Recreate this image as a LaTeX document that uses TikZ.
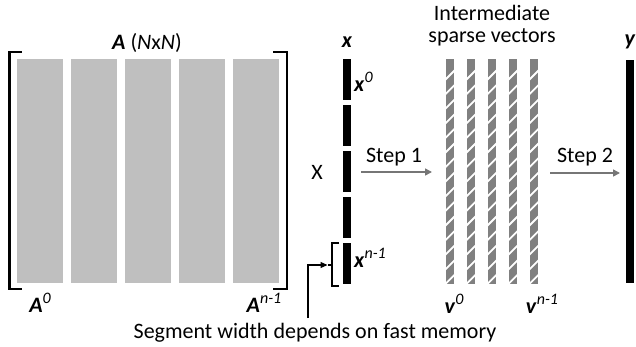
\documentclass[tikz,border=0pt]{standalone}
\usepackage{fontspec}
\setmainfont{Carlito}
\usetikzlibrary{arrows.meta}
\definecolor{colgray}{HTML}{BFBFBF}
\definecolor{stripegray}{HTML}{808080}
\definecolor{arrgray}{HTML}{767676}
\newcommand\bi[1]{\textbf{\textit{#1}}}
\newcommand\sups[1]{\raisebox{0.42em}{\fontsize{16}{16}\selectfont\itshape #1}}
\begin{document}
\begin{tikzpicture}[x=1pt,y=-1pt,
  txt/.style={font=\fontsize{22}{22}\selectfont, inner sep=0pt},
  col/.style={fill=colgray, draw=none, inner sep=0pt, minimum width=46pt, minimum height=224pt},
  seg/.style={fill=black, draw=none, inner sep=0pt, minimum width=8pt, minimum height=41pt},
  stripe/.style={fill=stripegray, draw=none, inner sep=0pt, minimum width=8pt, minimum height=225pt},
  bracketline/.style={line width=2.4pt, line cap=rect},
  hatch/.style={white, line width=1.8pt},
  steparrow/.style={arrgray, line width=1.5pt, -{Triangle[length=7pt,width=7pt]}},
  notearrow/.style={black, line width=1.2pt, -{Triangle[length=7pt,width=6pt]}},
  brace/.style={black, line width=1.1pt}]
\useasboundingbox (0,0) rectangle (636,346);

% matrix A
\foreach \i/\cx in {1/40,2/94,3/148,4/202,5/256}
  \node[col] (a\i) at (\cx,171) {};
\draw[bracketline] (21,52) -- (9.5,52) -- (9.5,289) -- (21,289);
\draw[bracketline] (274,52) -- (287,52) -- (287,289) -- (274,289);
\node[txt] (atitle) at (147,43) {\bi{A} (\textit{N}x\textit{N})};
\node[txt] (a0lab) at (40,303) {\bi{A}\sups{0}};
\node[txt] (anlab) at (264,303) {\bi{A}\sups{n-1}};

% times
\node[txt] (times) at (317,172) {X};

% vector x
\foreach \i/\cy in {1/79,2/125,3/171,4/217,5/263}
  \node[seg] (x\i) at (347,\cy) {};
\node[txt] (xlab) at (347,42) {\bi{x}};
\node[txt, anchor=west] (x0lab) at (354,82) {\bi{x}\sups{0}};
\node[txt, anchor=west] (xnlab) at (354,258) {\bi{x}\sups{n-1}};

% brace around last segment
\coordinate (bt) at (339,243);
\coordinate (bb) at (339,286);
\coordinate (bm) at (332,265);
\coordinate (btick) at (327.5,265);
\draw[brace] (bt) -- (332,243) -- (332,286) -- (bb);
\draw[brace] (bm) -- (btick);
\coordinate (nstart) at (308,318);
\draw[notearrow] (nstart) |- (btick);
\node[txt] (note) at (315,333) {Segment width depends on fast memory};

% step 1
\coordinate (s1a) at (361,172);
\coordinate (s1b) at (432,172);
\draw[steparrow] (s1a) -- (s1b);
\node[txt] (s1lab) at (394,157) {Step 1};

% intermediate sparse vectors
\node[txt, align=center, font=\fontsize{22}{22}\selectfont] (vtitle) at (492,26) {Intermediate\\sparse vectors};
\foreach \i/\cx in {1/450,2/471,3/492,4/513,5/534} {
  \node[stripe] (v\i) at (\cx,171.5) {};
  \begin{scope}
    \clip (v\i.north west) rectangle (v\i.south east);
    \foreach \k in {0,...,15}
      \draw[hatch] (\cx-5,80+\k*14.6) -- (\cx+5,70+\k*14.6);
  \end{scope}
}
\node[txt] (v0lab) at (454,304) {\bi{v}\sups{0}};
\node[txt] (vnlab) at (542,304) {\bi{v}\sups{n-1}};

% step 2
\coordinate (s2a) at (550,173);
\coordinate (s2b) at (620,173);
\draw[steparrow] (s2a) -- (s2b);
\node[txt] (s2lab) at (585,157) {Step 2};

% vector y
\node[fill=black, draw=none, inner sep=0pt, minimum width=8pt, minimum height=223pt] (ybar) at (630,171.5) {};
\node[txt] (ylab) at (630,42) {\bi{y}};
\end{tikzpicture}
\end{document}
